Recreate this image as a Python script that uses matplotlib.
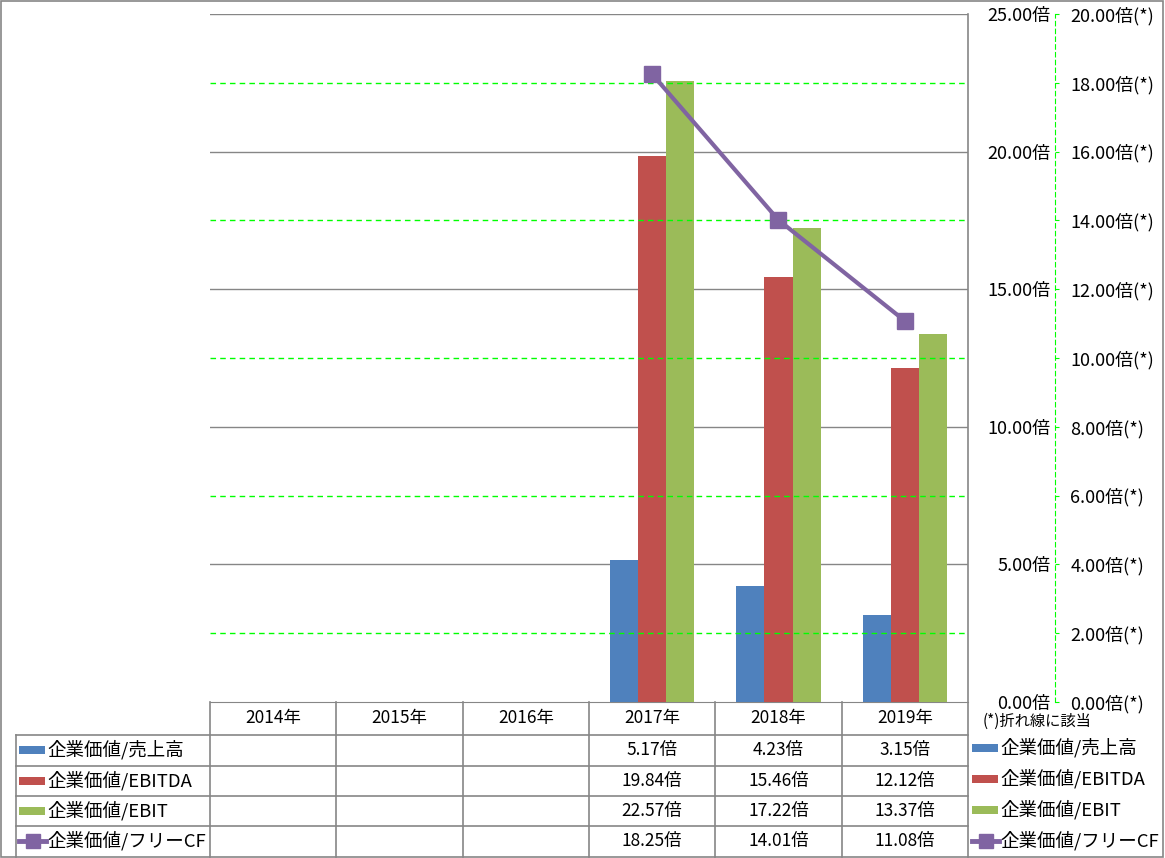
import matplotlib
matplotlib.use("Agg")
import matplotlib.pyplot as plt
import matplotlib.transforms as mtransforms
from matplotlib.patches import Rectangle
from matplotlib.lines import Line2D
import numpy as np

plt.rcParams['font.family'] = ['Noto Sans CJK JP', 'DejaVu Sans']

# ---- data ----
years = ["2014年", "2015年", "2016年", "2017年", "2018年", "2019年"]
ev_sales = [None, None, None, 5.17, 4.23, 3.15]
ev_ebitda = [None, None, None, 19.84, 15.46, 12.12]
ev_ebit = [None, None, None, 22.57, 17.22, 13.37]
ev_fcf = [None, None, None, 18.25, 14.01, 11.08]
series_names = ["企業価値/売上高", "企業価値/EBITDA", "企業価値/EBIT", "企業価値/フリーCF"]
left_ticks = [0, 5, 10, 15, 20, 25]
right_ticks = [0, 2, 4, 6, 8, 10, 12, 14, 16, 18, 20]
right_green_grid = [2, 6, 10, 14, 18]

C_BLUE = "#4F81BD"
C_RED = "#C0504D"
C_GREEN = "#9BBB59"
C_PURPLE = "#8064A2"
C_GRID = "#868686"
C_LIME = "#00FF00"

W, H = 1165, 858
fig = plt.figure(figsize=(W / 100, H / 100), dpi=100)

def fx(x):
    return x / W

def fy(y):
    return 1 - y / H

PL, PR, PT, PB = 210, 968, 14, 702
ax = fig.add_axes([fx(PL), fy(PB), fx(PR - PL), (PB - PT) / H])
ax2 = ax.twinx()

n = len(years)
x = np.arange(n)
bw = 0.222

def arr(v):
    return np.array([np.nan if a is None else a for a in v], dtype=float)

ax.bar(x - bw, arr(ev_sales), bw, color=C_BLUE, zorder=3)
ax.bar(x, arr(ev_ebitda), bw, color=C_RED, zorder=3)
ax.bar(x + bw, arr(ev_ebit), bw, color=C_GREEN, zorder=3)
ax2.plot(x, arr(ev_fcf), color=C_PURPLE, lw=3, marker="s", ms=12,
         markerfacecolor=C_PURPLE, markeredgecolor=C_PURPLE, zorder=5)

ax.set_xlim(-0.5, n - 0.5)
ax.set_ylim(0, 25)
ax2.set_ylim(0, 20)

# gridlines
for t in right_green_grid:
    ax2.axhline(t, color=C_LIME, lw=1, ls=(0, (4, 3)), zorder=1)
for t in left_ticks[1:]:
    ax.axhline(t, color=C_GRID, lw=1, zorder=1)

ax.set_xticks([])
for s in ["left", "right", "top"]:
    ax.spines[s].set_visible(False)
ax.spines["bottom"].set_color(C_GRID)
for s in ["left", "top", "bottom"]:
    ax2.spines[s].set_visible(False)

# left (primary) axis labels on the right side
ax.yaxis.tick_right()
ax.set_yticks(left_ticks)
ax.set_yticklabels([f"{t:.2f}倍" for t in left_ticks], fontsize=13)
ax.tick_params(axis="y", length=0, pad=59.5)
for lbl in ax.get_yticklabels():
    lbl.set_horizontalalignment("right")

# secondary axis
ax2.spines["right"].set_position(("axes", (1055 - PL) / (PR - PL)))
ax2.spines["right"].set_color(C_LIME)
ax2.spines["right"].set_linestyle((0, (4, 3)))
ax2.set_yticks(right_ticks)
ax2.set_yticklabels([f"{t:.2f}倍(*)" for t in right_ticks], fontsize=13)
ax2.tick_params(axis="y", length=3, color=C_LIME, pad=8)
ax2.set_zorder(ax.get_zorder() + 1)
ax2.patch.set_visible(False)

# ---- table ----
def hline(y, x0, x1):
    fig.add_artist(Line2D([fx(x0), fx(x1)], [fy(y), fy(y)], color=C_GRID, lw=1.2))

def vline(xp, y0, y1):
    fig.add_artist(Line2D([fx(xp), fx(xp)], [fy(y0), fy(y1)], color=C_GRID, lw=1.2))

row_lines = [735, 766, 796, 826]
for yl in row_lines:
    hline(yl, 16, PR)
col_edges = [210, 336, 463, 589, 715, 842]
for xc in col_edges:
    vline(xc, PB, 857)
vline(PR, PT, 857)
vline(16, 735, 857)
# outer border
fig.add_artist(Rectangle((fx(1), fy(857)), fx(1162), (856) / H, fill=False,
                         edgecolor=C_GRID, lw=1.2))

trans = mtransforms.blended_transform_factory(ax.transData, fig.transFigure)
for i, yr in enumerate(years):
    fig.text(i, fy(718), yr, transform=trans, ha="center", va="center", fontsize=12.5)

row_centers = [750, 781, 811, 841]
all_series = [ev_sales, ev_ebitda, ev_ebit, ev_fcf]
colors = [C_BLUE, C_RED, C_GREEN, C_PURPLE]
for r, (vals, yc) in enumerate(zip(all_series, row_centers)):
    for i, v in enumerate(vals):
        if v is not None:
            fig.text(i, fy(yc), f"{v:.2f}倍", transform=trans, ha="center",
                     va="center", fontsize=12.5)

def swatch(x0, yc, color, is_line):
    if is_line:
        fig.add_artist(Line2D([fx(x0), fx(x0 + 27)], [fy(yc), fy(yc)], color=color, lw=3.5))
        fig.add_artist(Line2D([fx(x0 + 13.5)], [fy(yc)], color=color, marker="s", ms=10,
                              markerfacecolor=color, markeredgecolor=color))
    else:
        fig.add_artist(Rectangle((fx(x0), fy(yc + 4)), fx(26), 8 / H, facecolor=color,
                                 edgecolor="none"))

for r, (name, yc) in enumerate(zip(series_names, row_centers)):
    swatch(19, yc, colors[r], r == 3)
    fig.text(fx(47), fy(yc), name, ha="left", va="center", fontsize=13.3)

# right legend
fig.text(fx(983), fy(721), "(*)折れ線に該当", ha="left", va="center", fontsize=11)
leg_rows = [748, 779, 810, 841]
for r, (name, yc) in enumerate(zip(series_names, leg_rows)):
    swatch(972, yc, colors[r], r == 3)
    fig.text(fx(1000), fy(yc), name, ha="left", va="center", fontsize=13.3)

fig.savefig("out.png", dpi=100)
